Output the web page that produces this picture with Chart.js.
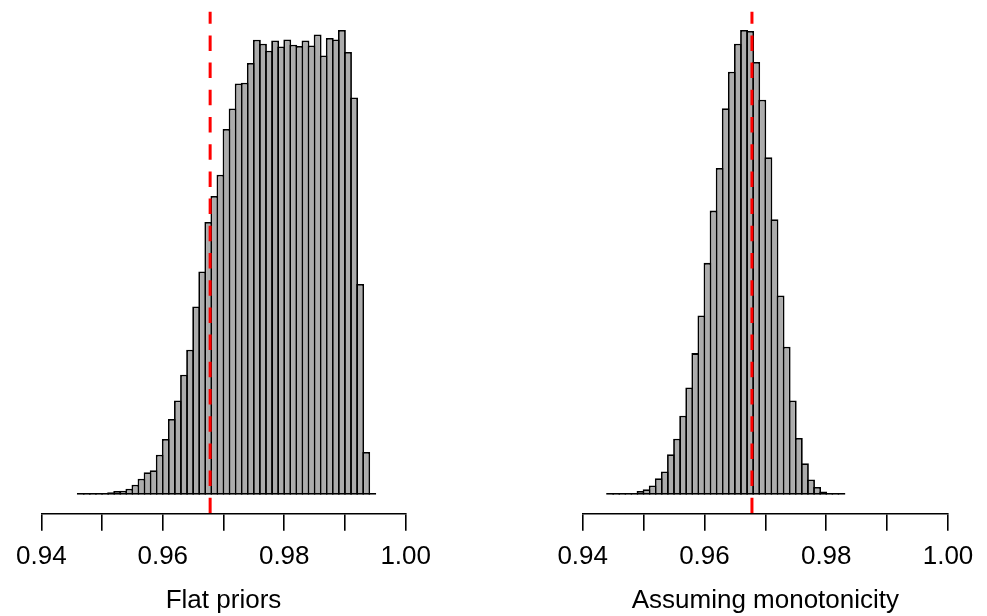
<!DOCTYPE html>
<html>
<head>
<meta charset="utf-8">
<script src="https://cdn.jsdelivr.net/npm/chart.js@4.4.1/dist/chart.umd.min.js"></script>
<style>
  html, body { margin: 0; padding: 0; background: #ffffff; }
  body { width: 987px; height: 616px; position: relative; overflow: hidden; }
  canvas { position: absolute; top: 0; }
  #left { left: 0px; }
  #right { left: 520px; }
</style>
</head>
<body>
<canvas id="left" width="470" height="616"></canvas>
<canvas id="right" width="467" height="616"></canvas>
<script>
// ---- Data ----
const binWidth = 0.001;

// Flat priors: bins from 0.946 to 0.995
const leftBinStart = 0.946;
const leftFreq = [0.3, 0.3, 0.3, 0.6, 1.3, 2.5, 3.7, 4, 6, 10,
  16, 22.5, 24.5, 40, 55.7, 75.7, 94.3, 120, 145, 188.3,
  223.3, 272.7, 298.7, 320, 365.7, 386.3, 411.3, 412, 431.7, 455,
  451, 444, 454.3, 448.3, 455.3, 450, 448.7, 454.3, 449.3, 460.3,
  439.3, 456.7, 455.3, 464.7, 442.7, 397.3, 210.7, 42.7, 1];

// Assuming monotonicity: bins from 0.944 to 0.983
const rightBinStart = 0.944;
const rightFreq = [0.3, 0.3, 0.3, 0.6, 1.7, 3.7, 5.5, 9.2, 16.5, 23.3,
  40.5, 56, 79, 107.3, 141.7, 179.3, 232, 284.3, 327, 386.7,
  423.3, 451.3, 465, 464, 433, 395.3, 337.7, 275.7, 199.3, 148,
  94.3, 56.7, 31.5, 15.2, 7.7, 3.3, 1.8, 0.8, 0.4];

// Reference value (red dashed line)
const refValue = 0.9678;

// Axis ticks and labels
const tickValues = [0.94, 0.95, 0.96, 0.97, 0.98, 0.99, 1.00];
const tickLabels = ['0.94', '0.96', '0.98', '1.00'];
const xMin = 0.94, xMax = 1.00;
const titles = ['Flat priors', 'Assuming monotonicity'];

// ---- Chart building ----
const FONT = "'Liberation Sans', Arial, Helvetica, sans-serif";
const BORDER = 1.8;

function makeChart(canvasId, binStart, freq, title, pad) {
  const points = freq.map((v, i) => ({ x: binStart + (i + 0.5) * binWidth, y: v }));
  const M = Math.max(...freq);
  const yMin = -0.04 * M, yMax = 1.04 * M;
  const plotW = document.getElementById(canvasId).width - pad.left - pad.right;
  const binPx = plotW * binWidth / (xMax - xMin);
  return new Chart(document.getElementById(canvasId), {
    type: 'bar',
    data: {
      datasets: [
        {
          type: 'line',
          data: [{ x: refValue, y: yMin }, { x: refValue, y: yMax }],
          borderColor: '#ff0000',
          borderWidth: 3,
          borderDash: [15.5, 11.7],
          borderCapStyle: 'butt',
          pointRadius: 0,
          fill: false,
          order: 0
        },
        {
          type: 'bar',
          data: points,
          backgroundColor: '#acacac',
          borderColor: '#000000',
          borderWidth: BORDER,
          borderSkipped: false,
          minBarLength: BORDER,
          barPercentage: 1,
          categoryPercentage: (binPx + BORDER) / binPx,
          order: 1
        }
      ]
    },
    options: {
      responsive: false,
      animation: false,
      devicePixelRatio: 1,
      layout: { padding: { left: pad.left, right: pad.right, top: 11.4, bottom: 0 } },
      plugins: { legend: { display: false }, tooltip: { enabled: false } },
      scales: {
        x: {
          type: 'linear',
          min: xMin,
          max: xMax,
          offset: false,
          afterBuildTicks: (s) => { s.ticks = tickValues.map(v => ({ value: v })); },
          afterFit: (s) => { s.height = 102.7; },
          grid: {
            offset: false,
            drawOnChartArea: false,
            drawTicks: true,
            tickLength: 17.4,
            color: '#000000',
            lineWidth: 1.6
          },
          border: { display: true, color: '#000000', width: 1.6 },
          ticks: {
            autoSkip: false,
            maxRotation: 0,
            padding: 10.7,
            color: '#000000',
            font: { family: FONT, size: 26 },
            callback: (v) => {
              const s = Number(v).toFixed(2);
              return tickLabels.includes(s) ? s : '';
            }
          },
          title: {
            display: true,
            text: title,
            color: '#000000',
            font: { family: FONT, size: 26 },
            padding: { top: 0, bottom: 0 }
          }
        },
        y: {
          display: false,
          min: yMin,
          max: yMax
        }
      }
    }
  });
}

makeChart('left', leftBinStart, leftFreq, titles[0], { left: 41.3, right: 470 - 405.7 });
makeChart('right', rightBinStart, rightFreq, titles[1], { left: 582.7 - 520, right: 467 - (948 - 520) });
</script>
</body>
</html>
